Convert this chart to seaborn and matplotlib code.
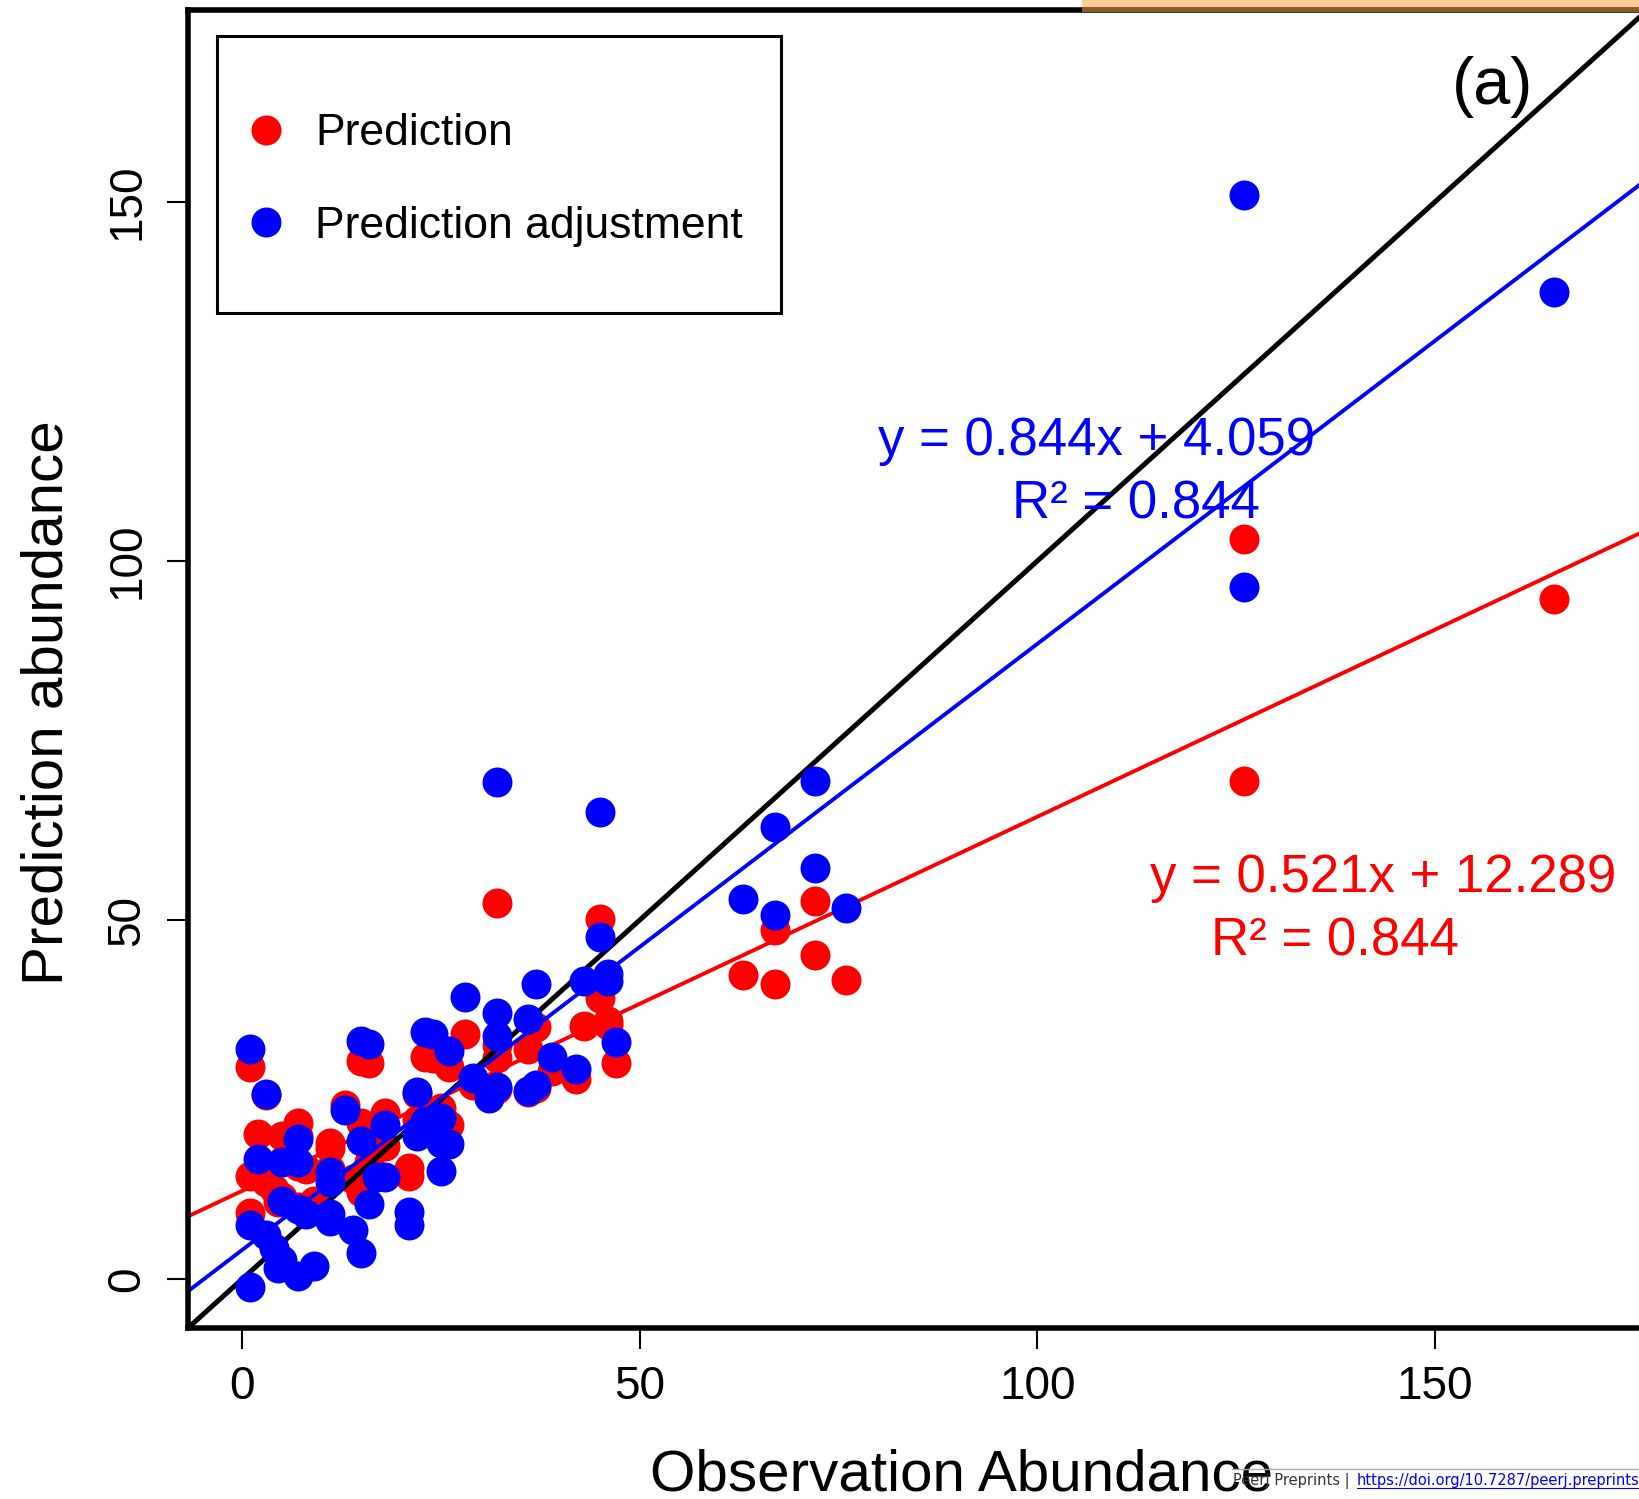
import numpy as np
import pandas as pd
import matplotlib
matplotlib.use("Agg")
import matplotlib.pyplot as plt
import seaborn as sns
from matplotlib.patches import Rectangle
from matplotlib.lines import Line2D

# ---------------- data ----------------
obs = [126, 126, 165, 72, 72, 67, 67, 63, 76, 32, 45, 45, 46, 46, 43, 47, 42, 39,
       37, 36, 37, 36, 32, 32, 32, 31, 29, 28, 26, 23, 24, 22, 25, 26, 25, 24, 22,
       21, 21, 18, 18, 16, 15, 15, 16, 15, 14, 13, 11, 11, 11, 9, 7, 4.5, 7, 7, 5,
       2, 5, 3, 1, 1, 3, 1, 7, 8, 11, 4, 5, 17, 23, 25]
pred = [103.0, 69.3, 94.7, 52.6, 45.1, 48.6, 41.1, 42.4, 41.7, 52.4, 50.1, 39.2,
        35.9, 35.4, 35.3, 30.1, 27.9, 29.0, 35.1, 32.1, 26.6, 26.0, 32.6, 30.8,
        26.5, 25.4, 27.1, 34.1, 29.5, 31.0, 30.8, 25.8, 23.8, 21.4, 19.1, 23.3,
        22.2, 15.5, 14.4, 23.2, 18.5, 30.1, 30.4, 21.7, 16.3, 12.1, 14.0, 24.3,
        19.0, 18.2, 14.8, 10.9, 10.1, 10.8, 21.8, 19.9, 19.9, 20.2, 16.5, 13.6,
        14.4, 9.2, 25.7, 29.6, 15.8, 15.4, 15.4, 12.5, 11.4, 18.5, 23.4, 21.5]
adj = [151.0, 96.4, 137.5, 69.4, 57.2, 62.9, 50.7, 52.9, 51.7, 69.2, 65.1, 47.7,
       42.5, 41.5, 41.5, 33.0, 29.3, 30.9, 41.1, 36.2, 27.0, 26.2, 37.0, 33.8,
       26.8, 25.2, 28.0, 39.3, 31.8, 34.4, 34.1, 26.0, 22.5, 18.8, 15.0, 21.8,
       20.0, 9.3, 7.5, 21.5, 14.2, 32.8, 33.2, 19.3, 10.5, 3.7, 6.8, 23.5,
       14.9, 13.6, 8.1, 1.9, 0.5, 1.6, 19.5, 16.3, 16.3, 16.7, 10.9, 6.1,
       7.5, -1.1, 25.8, 32.1, 9.8, 9.1, 9.1, 4.4, 2.6, 14.2, 22.0, 19.0]

series_names = ["Prediction", "Prediction adjustment"]
series_colors = ["#FF0000", "#0000FF"]
fit_slopes = [0.521, 0.844]
fit_intercepts = [12.289, 4.059]
fit_r2 = [0.844, 0.844]
eq_labels = ["y = 0.521x + 12.289", "y = 0.844x + 4.059"]
r2_labels = ["R\u00b2 = 0.844", "R\u00b2 = 0.844"]
xticks = [0, 50, 100, 150]
yticks = [0, 50, 100, 150]
axis_lims = (-6.8, 176.8)
panel_tag = "(a)"

df = pd.DataFrame({
    "obs": obs * 2,
    "value": pred + adj,
    "series": [series_names[0]] * len(pred) + [series_names[1]] * len(adj),
})

# ---------------- figure ----------------
sns.set_theme(style="white")
plt.rcParams['font.family'] = ['Liberation Sans', 'DejaVu Sans']
plt.rcParams['text.color'] = 'black'
plt.rcParams['axes.labelcolor'] = 'black'
plt.rcParams['xtick.color'] = 'black'
plt.rcParams['ytick.color'] = 'black'

W, H = 1640, 1499
fig = plt.figure(figsize=(W / 100, H / 100), dpi=100)
fig.patch.set_facecolor("white")
ax = fig.add_axes([188 / W, 171 / H, 1460 / W, 1318.5 / H])
ax.set_facecolor("white")

msize = 466
sns.scatterplot(data=df[df.series == series_names[0]], x="obs", y="value",
                color=series_colors[0], s=msize, linewidth=0, ax=ax, zorder=1,
                legend=False)
ax.axline((0, 0), slope=1, color="black", lw=3.6, zorder=2)
for sl, ic, c in zip(fit_slopes, fit_intercepts, series_colors):
    ax.axline((0, ic), slope=sl, color=c, lw=2.8, zorder=2)
sns.scatterplot(data=df[df.series == series_names[1]], x="obs", y="value",
                color=series_colors[1], s=msize, linewidth=0, ax=ax, zorder=3,
                legend=False)

ax.set_xlim(*axis_lims)
ax.set_ylim(*axis_lims)
ax.set_xticks(xticks)
ax.set_yticks(yticks)
ax.set_xticklabels([str(t) for t in xticks])
ax.set_yticklabels([str(t) for t in yticks])
ax.tick_params(axis="both", direction="out", length=15, width=1.5,
               labelsize=33, bottom=True, left=True)
ax.tick_params(axis="x", pad=11.5)
ax.tick_params(axis="y", pad=13)
for lab in ax.get_yticklabels():
    lab.set_rotation(90)
    lab.set_va("center")
for sp in ax.spines.values():
    sp.set_linewidth(4)
    sp.set_color("black")

ax.set_xlabel("Observation Abundance", fontsize=42)
ax.xaxis.set_label_coords(0.53, -0.0915)
ax.set_ylabel("Prediction abundance", fontsize=42)
ax.yaxis.set_label_coords(-0.078, 0.474)

# equations
ax.text(80.0, 114.8, eq_labels[1], color=series_colors[1], fontsize=38,
        ha="left", va="baseline", zorder=4)
ax.text(96.8, 105.9, r2_labels[1], color=series_colors[1], fontsize=38,
        ha="left", va="baseline", zorder=4)
ax.text(114.2, 53.9, eq_labels[0], color=series_colors[0], fontsize=38,
        ha="left", va="baseline", zorder=4)
ax.text(121.8, 45.1, r2_labels[0], color=series_colors[0], fontsize=38,
        ha="left", va="baseline", zorder=4)
ax.text(152.1, 163.6, panel_tag, color="black", fontsize=48,
        ha="left", va="baseline", zorder=4)

# legend
fs_leg = 32
fs_px = fs_leg * 100 / 72
bpad = 1.75
handles = [Line2D([], [], ls="", marker="o", markersize=21.6,
                  markerfacecolor=c, markeredgewidth=0) for c in series_colors]
leg = ax.legend(handles, series_names, loc="upper left",
                bbox_to_anchor=((265.7 - bpad * fs_px) / W, 1 - 35.6 / H),
                bbox_transform=fig.transFigure, frameon=False, fontsize=fs_leg,
                borderpad=bpad, handlelength=0, handleheight=0.7,
                labelspacing=1.16, handletextpad=1.12, borderaxespad=0)
fig.add_artist(Rectangle((217.5 / W, 1 - 312.7 / H), (781.3 - 217.5) / W,
                         (312.7 - 35.6) / H, transform=fig.transFigure,
                         fill=False, ec="black", lw=2.2, zorder=6))

# cropped page artefacts (orange bar at top, preprint footer)
fig.add_artist(Rectangle((1082 / W, 1 - 7 / H), (W - 1082) / W, 7 / H,
                         transform=fig.transFigure, fc="#FDCB94", ec="none",
                         zorder=7))
fig.add_artist(Rectangle((1082 / W, 1 - 12.3 / H), (W - 1082) / W, 5.3 / H,
                         transform=fig.transFigure, fc="#8C5A27", ec="none",
                         zorder=7))
fig.add_artist(Line2D([1232 / W, 1], [1 - 1469 / H, 1 - 1469 / H],
                      transform=fig.transFigure, color="#AAAAAA", lw=1, zorder=7))
fig.text(1233 / W, 1 - 1485 / H, "PeerJ Preprints | ", fontsize=10.5,
         family="DejaVu Sans", color="#333333", ha="left", va="baseline", zorder=8)
fig.text(1357 / W, 1 - 1485 / H, "https://doi.org/10.7287/peerj.preprints.27",
         fontsize=10.5, family="DejaVu Sans", color="#0000EE", ha="left",
         va="baseline", zorder=8)
fig.add_artist(Line2D([1357 / W, 1], [1 - 1488 / H, 1 - 1488 / H],
                      transform=fig.transFigure, color="#0000EE", lw=0.8, zorder=8))

fig.savefig("out.png", dpi=100, facecolor="white")
